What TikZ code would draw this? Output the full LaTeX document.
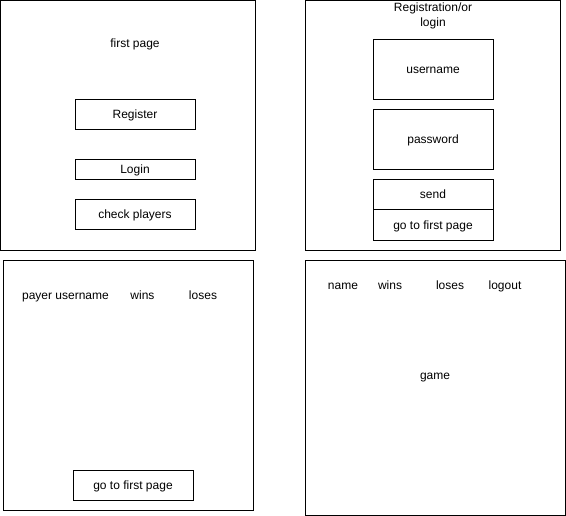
\documentclass[tikz,border=0pt]{standalone}
\usepackage{fontspec}
\setmainfont{Liberation Sans}
\begin{document}
\begin{tikzpicture}[x=.75pt,y=-.75pt,line width=.75pt,
  every node/.style={font=\fontsize{9}{11}\selectfont,inner sep=0pt,
    text height=7.2pt,text depth=1.2pt}]
\useasboundingbox (0,0) rectangle (566,516);
% first page
\draw (.5,.5) rectangle (255,250);
\node (fp) at (135,44) {first page};
\draw (75,100) rectangle (195,130) node[midway] (reg) {Register};
\draw (75,160) rectangle (195,180) node[midway] (log) {Login};
\draw (75,200) rectangle (195,230) node[midway] (chk) {check players};
% registration / login
\draw (305,.5) rectangle (560,250);
\node (rl1) at (433,8) {Registration/or};
\node (rl2) at (433,23) {login};
\draw (373,40) rectangle (493,100) node[midway] (usr) {username};
\draw (373,110) rectangle (493,170) node[midway] (pwd) {password};
\draw (373,180) rectangle (493,210) node[midway] (snd) {send};
\draw (373,210) rectangle (493,240) node[midway] (gofp) {go to first page};
% players
\draw (3,260) rectangle (253,510);
\node (pusr) at (65.5,295) {payer username};
\node (pwin) at (142.5,295) {wins};
\node (plos) at (203,295) {loses};
\draw (73,470) rectangle (193,500) node[midway] (gofp2) {go to first page};
% game
\draw (305,260) rectangle (565,515);
\node (gnam) at (343,285) {name};
\node (gwin) at (390,285) {wins};
\node (glos) at (450,285) {loses};
\node (gout) at (505,285) {logout};
\node (gam) at (435,375) {game};
\end{tikzpicture}
\end{document}
